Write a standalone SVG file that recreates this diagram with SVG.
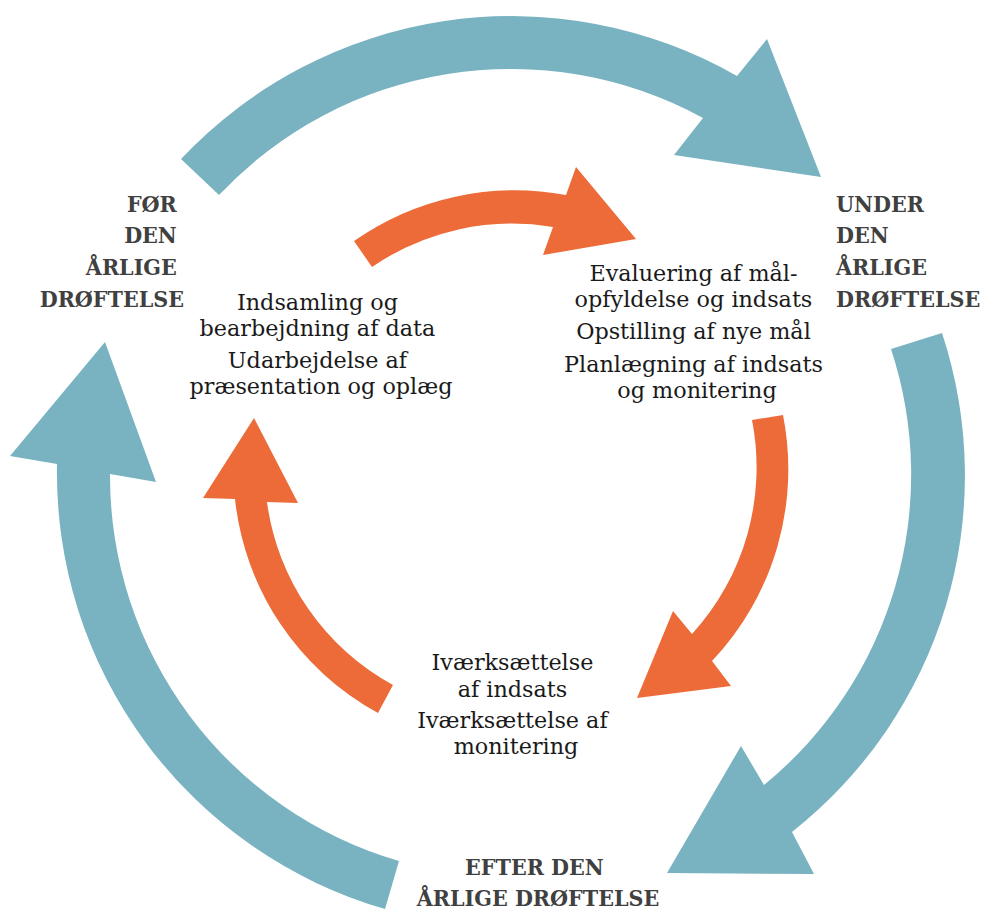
<svg xmlns="http://www.w3.org/2000/svg" width="981" height="909" viewBox="0 0 981 909">
  <style>
    .outer { fill: #79B3C1; }
    .inner { fill: #ED6B38; }
    .phase { font-family: "DejaVu Serif", "Liberation Serif", serif; font-weight: bold; font-stretch: condensed; font-size: 23px; fill: #404040; }
    .task { font-family: "DejaVu Serif", "Liberation Serif", serif; font-size: 22.3px; fill: #1a1a1a; text-anchor: middle; }
  </style>

  <!-- curved arrows: outer ring (yearly phases) and inner ring (work steps), centre (510,471) -->
  <g id="connectors">
    <path id="outer-top" class="outer" d="M 181 159 A 454 454 0 0 1 737 76 L 767 39 L 821 177 L 674 155 L 703 118 A 401 401 0 0 0 219 195 Z"/>
    <path id="outer-right" class="outer" d="M 942 333 A 454 454 0 0 1 792 832 L 814 874 L 667 873 L 741 746 L 764 785 A 401 401 0 0 0 891 349 Z"/>
    <path id="outer-left" class="outer" d="M 385 909 A 454 454 0 0 1 57 464 L 10 456 L 105 342 L 156 482 L 110 474 A 401 401 0 0 0 399 861 Z"/>

    <path id="inner-top" class="inner" d="M 354 241 A 280 280 0 0 1 566 195 L 576 167 L 636 239 L 543 255 L 553 227 A 247 247 0 0 0 372 267 Z"/>
    <path id="inner-right" class="inner" d="M 783 415 A 279 279 0 0 1 712 661 L 731 686 L 637 698 L 673 611 L 692 634 A 247 247 0 0 0 752 420 Z"/>
    <path id="inner-left" class="inner" d="M 378 713 A 277 277 0 0 1 235 499 L 203 498 L 254 418 L 298 503 L 267 502 A 245 245 0 0 0 393 685 Z"/>
  </g>

  <g id="phase-before">
    <text class="phase" text-anchor="end">
      <tspan x="184" y="212">FØR</tspan>
      <tspan x="184" y="243">DEN</tspan>
      <tspan x="184" y="275">ÅRLIGE</tspan>
      <tspan x="184" y="307">DRØFTELSE</tspan>
    </text>
  </g>

  <g id="phase-during">
    <text class="phase" text-anchor="start">
      <tspan x="836" y="212">UNDER</tspan>
      <tspan x="836" y="243">DEN</tspan>
      <tspan x="836" y="275">ÅRLIGE</tspan>
      <tspan x="836" y="307">DRØFTELSE</tspan>
    </text>
  </g>

  <g id="phase-after">
    <text class="phase" text-anchor="middle">
      <tspan x="538" y="875">EFTER DEN</tspan>
      <tspan x="538" y="906">ÅRLIGE DRØFTELSE</tspan>
    </text>
  </g>

  <g id="tasks-before">
    <text class="task">
      <tspan x="321" y="310">Indsamling og</tspan>
      <tspan x="321" y="336">bearbejdning af data</tspan>
      <tspan x="321" y="368">Udarbejdelse af</tspan>
      <tspan x="321" y="394">præsentation og oplæg</tspan>
    </text>
  </g>

  <g id="tasks-during">
    <text class="task">
      <tspan x="697" y="281">Evaluering af mål-</tspan>
      <tspan x="697" y="307">opfyldelse og indsats</tspan>
      <tspan x="697" y="339">Opstilling af nye mål</tspan>
      <tspan x="697" y="372">Planlægning af indsats</tspan>
      <tspan x="697" y="398">og monitering</tspan>
    </text>
  </g>

  <g id="tasks-after">
    <text class="task">
      <tspan x="516" y="670">Iværksættelse</tspan>
      <tspan x="516" y="697">af indsats</tspan>
      <tspan x="516" y="728">Iværksættelse af</tspan>
      <tspan x="516" y="754">monitering</tspan>
    </text>
  </g>
</svg>
